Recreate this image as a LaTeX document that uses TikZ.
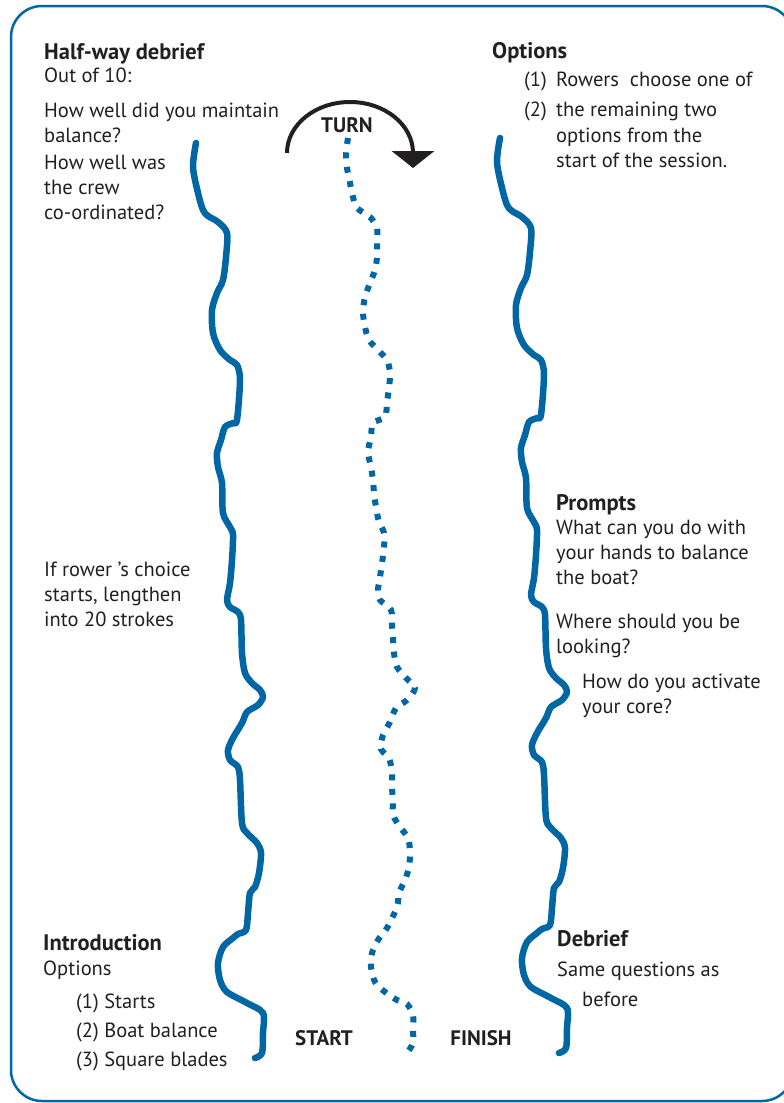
\documentclass[tikz,border=0pt]{standalone}
\usepackage{fontspec}
\setmainfont{PT Sans}
\usetikzlibrary{arrows.meta}
\definecolor{riverblue}{RGB}{0,102,164}
\definecolor{inkdark}{RGB}{35,31,32}

\tikzset{
  notes/.style={anchor=base west, inner sep=0pt, align=left, text=inkdark,
    font=\fontsize{20.5}{25}\selectfont},
  headtext/.style={notes, font=\fontsize{22.5}{25}\selectfont\bfseries},
  marker/.style={anchor=base, inner sep=0pt, text=inkdark,
    font=\fontsize{21}{25}\selectfont\bfseries},
  river/.style={riverblue, line width=6.5pt, line cap=round, line join=round},
  channel/.style={riverblue, line width=6pt, dash pattern=on 6pt off 8.5pt},
}

% one bank of the river, shifted for the other side
\newcommand{\riverbank}[1]{%
  \draw[river, shift={#1}] plot[smooth, tension=0.5] coordinates {
    (196,143) (193,167) (198,193) (203,210) (208,216) (218,222) (227,233)
    (226,257) (223,280) (217,293) (212,310) (213,333) (220,350) (230,360)
    (237,365) (240,380) (237,420) (233,423) (225,427) (221,440) (217,453)
    (218,467) (222,483) (223,513) (230,527) (233,535) (232,560) (230,583)
    (227,600) (230,607) (238,612) (241,620) (242,653) (245,673) (252,683)
    (260,690) (263,697) (258,705) (247,712) (242,723) (233,738) (228,750)
    (230,760) (238,767) (240,780) (242,823) (247,833) (257,843) (261,853)
    (259,873) (255,887) (250,893) (248,913) (246,930) (238,934) (233,938)
    (223,947) (218,963) (220,980) (227,992) (247,1003) (263,1013)
    (263,1033) (262,1053) (255,1058)};%
}

\begin{document}
\begin{tikzpicture}[x=1pt, y=-1pt]
    \useasboundingbox (0,0) rectangle (784,1103);
    \clip (0,0) rectangle (784,1103);

    % Frame
    \draw[riverblue, line width=2.5pt, rounded corners=31pt] (11,6) rectangle (793,1101);

    % Banks
    \riverbank{(0,0)}
    \riverbank{(304,-5)}

    % Course (dotted)
    \draw[channel] plot[smooth, tension=0.5] coordinates {
      (348,138) (346,153) (347,168) (350,183) (353,197) (357,208) (370,217)
      (377,228) (377,242) (377,257) (375,270) (370,283) (365,297) (363,312)
      (365,327) (369,340) (378,350) (387,360) (390,373) (389,388) (387,402)
      (385,417) (373,423) (371,437) (368,452) (371,467) (373,480) (374,493)
      (376,507) (379,522) (384,533) (384,548) (382,563) (380,577) (378,590)
      (380,600) (391,610) (392,625) (393,638) (394,653) (397,667) (406,678)
      (415,688) (407,700) (396,708) (390,722) (383,735) (381,749) (389,758)
      (392,773) (392,787) (393,802) (393,815) (400,827) (408,838) (410,852)
      (409,867) (405,880) (399,893) (397,907) (387,928) (378,940) (372,953)
      (371,967) (375,982) (385,992) (397,1000) (407,1004) (413,1015)
      (413,1030) (413,1043) (407,1053)};

    % Turn arrow
    \coordinate (turnstart) at (287,153);
    \draw[inkdark, line width=4pt, -{Triangle[width=42pt, length=17pt]}]
      (turnstart) arc[start angle=180, end angle=360, x radius=63, y radius=51]
      -- ++(0,15);

    % Markers
    \node[marker] (turn) at (347,132) {TURN};
    \node[marker] (start) at (324,1045) {START};
    \node[marker] (finish) at (481,1045) {FINISH};

    % Half-way debrief (multi-line nodes sit on their last line)
    \node[headtext] (halfway) at (44,59) {Half-way debrief};
    \node[notes] (halfwaytxt) at (44,219) {Out of 10:\\[10pt]
      How well did you maintain\\ balance?\\[2pt] How well was\\ the crew\\ co-ordinated?};

    % Options at the turn
    \node[headtext] (options) at (492,58) {Options};
    \node[notes] (optionstxt) at (524,167) {\makebox[32pt][l]{(1)}Rowers\ \ choose one of\\[5pt]
      \makebox[32pt][l]{(2)}the remaining two\\[1pt]
      \hspace*{32pt}options from the\\ \hspace*{32pt}start of the session.};

    % Rower's choice
    \node[notes] (choice) at (44,626) {If rower 's choice\\ starts, lengthen\\ into 20 strokes};

    % Prompts
    \node[headtext] (prompts) at (556,510) {Prompts};
    \node[notes] (promptstxt) at (556,653) {What can you do with\\ your hands to balance\\
      the boat?\\[19pt] Where should you be\\ looking?};
    \node[notes] (coretxt) at (582,713) {How do you activate\\ your core?};

    % Introduction
    \node[headtext] (intro) at (43,950) {Introduction};
    \node[notes] (introtxt) at (43,975) {Options};
    \node[notes] (introlist) at (76,1066) {(1) Starts\\[4pt] (2) Boat balance\\[4pt] (3) Square blades};

    % Debrief
    \node[headtext] (debrief) at (557,946) {Debrief};
    \node[notes] (debrieftxt) at (557,976) {Same questions as};
    \node[notes] (beforetxt) at (582,1006) {before};
\end{tikzpicture}
\end{document}
